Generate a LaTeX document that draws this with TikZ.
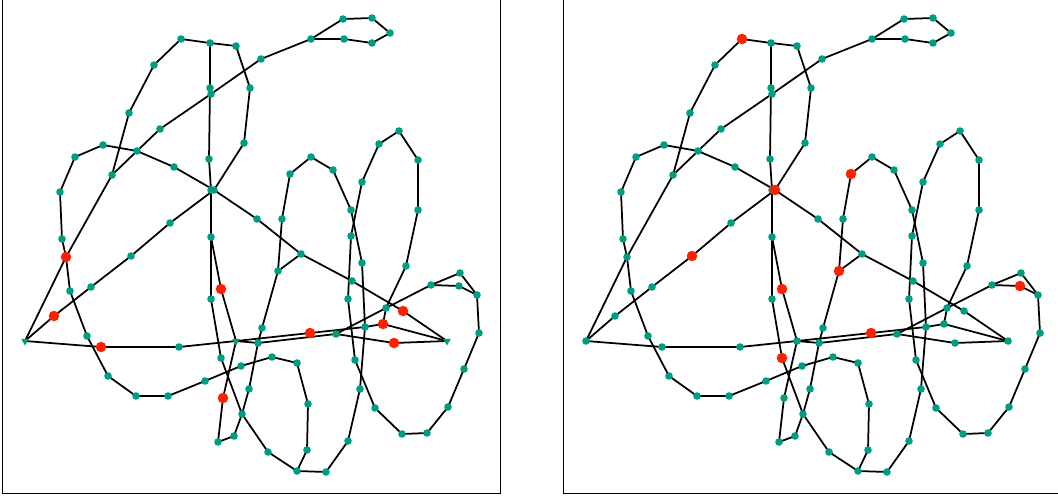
\documentclass[tikz,border=0pt]{standalone}
\usetikzlibrary{shapes.geometric}
\pgfdeclarelayer{background}
\pgfsetlayers{background,main}
\definecolor{myteal}{RGB}{0,158,128}
\definecolor{myred}{RGB}{255,32,0}
\tikzset{
  vx/.style={circle, fill=myteal, draw=none, inner sep=0pt, minimum size=7.6pt},
  rn/.style={fill=myred, minimum size=10.5pt},
  tri/.style={regular polygon, regular polygon sides=3, shape border rotate=180, minimum size=9pt},
  edge/.style={draw=black, line width=1.75pt},
  frame/.style={draw=black, line width=1.5pt},
}
\newcommand\mygraph{%
  \foreach \i/\x/\y in {
    1/181/39, 2/210/43, 3/236/46, 4/154/65, 5/129/113, 6/160/129, 7/103/145,
    8/75/157, 9/137/151, 10/261/59, 11/311/39, 12/343/19, 13/372/18, 14/390/33,
    15/344/39, 16/372/43, 17/210/88, 18/211/94, 19/250/88, 20/244/143, 21/209/159,
    22/174/167, 101/211/190, 23/214/190, 24/112/175, 25/60/192, 26/62/239, 27/66/257,
    28/131/256, 29/170/223, 30/91/287, 31/70/291, 32/54/316, 33/87/336, 34/25/341,
    36/101/347, 37/108/376, 38/136/396, 39/168/396, 40/179/347, 41/205/381,
    42/211/237, 43/257/219, 44/282/219, 45/290/174, 46/311/157, 47/333/170,
    48/301/254, 49/278/271, 50/221/289, 51/211/299, 52/262/328, 53/310/333,
    54/236/341, 55/258/343, 56/221/358, 57/241/366, 58/272/357, 59/297/363,
    60/249/389, 61/223/398, 62/308/404, 63/242/414, 64/234/436, 65/218/442,
    66/268/452, 67/307/450, 68/297/471, 69/326/472, 70/348/441, 71/360/389,
    72/355/360, 73/375/408, 74/402/434, 75/427/433, 76/448/407, 77/464/369,
    78/479/333, 79/477/295, 80/460/273, 81/459/286, 82/431/285, 83/447/341,
    84/394/343, 85/383/324, 86/403/311, 87/386/308, 88/365/327, 89/336/334,
    90/348/299, 91/352/281, 92/362/263, 93/406/266, 94/351/236, 95/351/210,
    96/362/182, 97/418/210, 98/418/160, 99/399/131, 100/379/144}
  { \node[vx, k\i/.try] (n\i) at (\x,\y) {}; }
  \begin{pgfonlayer}{background}
  \foreach \a/\b in {
    2/17, 17/21, 21/101, 101/42, 42/51, 51/56, 56/63, 63/66, 66/68, 68/67, 67/62,
    62/59, 59/58, 58/57, 57/41, 41/39, 39/38, 38/37, 37/33, 33/31, 31/27, 27/26,
    26/25, 25/8, 8/7, 7/9, 9/22, 22/23, 23/43, 43/48, 48/91, 91/86, 86/83,
    34/32, 32/30, 30/28, 28/29, 29/23, 23/20, 20/19, 19/3, 3/2, 2/1, 1/4, 4/5,
    5/24, 24/27, 27/34,
    24/9, 9/6, 6/18, 18/10, 10/11, 11/12, 12/13, 13/14, 14/16, 16/15, 15/11,
    34/36, 36/40, 40/54, 54/53, 53/88, 88/85, 85/83, 85/87, 87/93, 93/97, 97/98,
    98/99, 99/100, 100/96, 96/94, 94/90, 90/72, 72/73, 73/74, 74/75, 75/76,
    76/77, 77/78, 78/79, 79/80, 79/81, 80/82, 81/82, 82/87, 87/89, 89/55, 55/54,
    89/84, 84/83,
    42/50, 50/54, 54/61, 61/65, 65/64, 64/63, 63/60, 60/55, 55/52, 52/49, 49/44,
    44/45, 45/46, 46/47, 47/95, 95/92, 92/88, 88/71, 71/70, 70/69, 69/68, 49/48}
  { \draw[edge] (n\a.center) -- (n\b.center); }
  \end{pgfonlayer}
}
\begin{document}
\begin{tikzpicture}[x=1pt,y=-1pt]
\useasboundingbox (0,0) rectangle (1058,496);
\clip (0,0) rectangle (1058,496);
\begin{scope}[name prefix=L-,
  k27/.style=rn, k32/.style=rn, k36/.style=rn, k50/.style=rn, k61/.style=rn,
  k53/.style=rn, k85/.style=rn, k86/.style=rn, k84/.style=rn,
  k34/.style=tri, k54/.style=tri, k83/.style=tri]
  \draw[frame] (2.7,-5) rectangle (500.7,493.5);
  \mygraph
\end{scope}
\begin{scope}[xshift=561pt, name prefix=R-,
  k1/.style=rn, k45/.style=rn, k23/.style=rn, k28/.style=rn, k49/.style=rn,
  k50/.style=rn, k56/.style=rn, k53/.style=rn, k81/.style=rn]
  \draw[frame] (2.7,-5) rectangle (500.7,493.5);
  \mygraph
\end{scope}
\end{tikzpicture}
\end{document}
